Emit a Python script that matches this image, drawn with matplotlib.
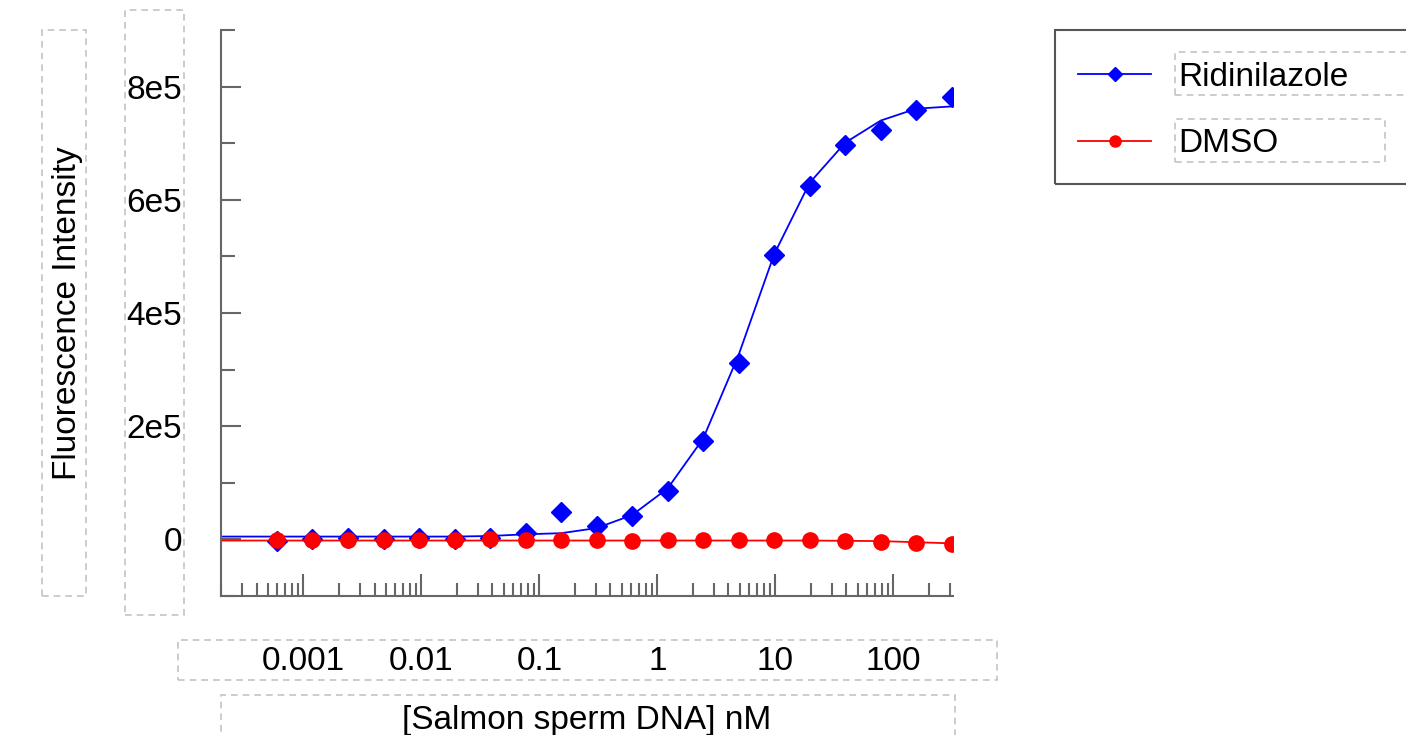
import numpy as np
import matplotlib
matplotlib.use('Agg')
import matplotlib.pyplot as plt
from matplotlib.patches import Rectangle
from matplotlib.lines import Line2D
from matplotlib.ticker import LogLocator, NullFormatter, FixedLocator

plt.rcParams['font.family'] = ['Liberation Sans', 'DejaVu Sans']

# [Salmon sperm DNA] nM, 2-fold dilution series
conc = [0.000596, 0.00119, 0.00238, 0.00477, 0.00954, 0.0191, 0.0381, 0.0763,
        0.153, 0.305, 0.610, 1.22, 2.44, 4.88, 9.77, 19.5, 39.1, 78.1, 156.25, 312.5]

ridinilazole = [-2e3, 0, 2e3, 0, 2e3, 1e3, 3e3, 1.1e4, 4.8e4, 2.4e4, 4.2e4, 8.6e4,
                1.74e5, 3.11e5, 5.02e5, 6.24e5, 6.97e5, 7.24e5, 7.59e5, 7.82e5]
dmso = [-1e3, -1e3, -1e3, -1e3, -1e3, -1e3, 0, -1e3, -1e3, -1e3, -2e3, -1e3,
        -1e3, -1e3, -1e3, -1e3, -3e3, -4e3, -7e3, -8e3]

# fitted curves (start at left edge of axis, then at each concentration)
fit_conc = [0.0002] + conc
ridinilazole_fit = [5e3, 5e3, 5e3, 5e3, 5e3, 5e3, 5e3, 6e3, 9e3, 1.1e4, 2.0e4, 4.3e4,
                    9.0e4, 1.78e5, 3.26e5, 5.04e5, 6.3e5, 7.01e5, 7.4e5, 7.61e5, 7.65e5]
dmso_fit = [-2e3] * 17 + [-2.5e3, -3e3, -5e3, -7e3]

W, H = 1406, 735
fig = plt.figure(figsize=(W / 100, H / 100), dpi=100)
ax = fig.add_axes([221 / W, 1 - 596 / H, (953 - 221) / W, (596 - 30) / H])

#%%
ax.plot(fit_conc, ridinilazole_fit, color='blue', lw=1.3)
ax.plot(conc, ridinilazole, 'D', color='blue', ms=10, mec='blue')
ax.plot(fit_conc, dmso_fit, color='red', lw=1.3)
ax.plot(conc, dmso, 'o', color='red', ms=11, mec='red')

ax.set_xscale('log')
ax.set_xlim(0.0002, 320)
ax.set_ylim(-1e5, 9e5)

gray = '#666666'
for s in ['top', 'right']:
    ax.spines[s].set_visible(False)
for s in ['left', 'bottom']:
    ax.spines[s].set_color(gray)
    ax.spines[s].set_linewidth(1.5)

ax.set_xticks([1e-3, 1e-2, 1e-1, 1, 10, 100])
ax.set_xticklabels(['0.001', '0.01', '0.1', '1', '10', '100'])
ax.xaxis.set_minor_locator(LogLocator(base=10, subs=np.arange(2, 10), numticks=20))
ax.xaxis.set_minor_formatter(NullFormatter())

ax.set_yticks([0, 2e5, 4e5, 6e5, 8e5])
ax.set_yticklabels(['0', '2e5', '4e5', '6e5', '8e5'])
ax.yaxis.set_minor_locator(FixedLocator([-1e5, 1e5, 3e5, 5e5, 7e5, 9e5]))

ax.tick_params(axis='both', which='both', direction='in', color=gray, width=1.5, labelsize=24)
ax.tick_params(axis='y', which='major', length=14.4, pad=28)
ax.tick_params(axis='y', which='minor', length=10)
ax.tick_params(axis='x', which='major', length=16, pad=36)
ax.tick_params(axis='x', which='minor', length=9.4)

ax.set_xlabel('[Salmon sperm DNA] nM', fontsize=24)
ax.xaxis.set_label_coords(0.5, -0.192)
ax.set_ylabel('Fluorescence Intensity', fontsize=24)
ax.yaxis.set_label_coords(-0.189, 0.5)

#%%
# dashed layout boxes round the texts
def box(x0, y0, x1, y1, ec='#c4c4c4', ls=(0, (4, 3)), lw=1.2):
    fig.add_artist(Rectangle((x0 / W, 1 - y1 / H), (x1 - x0) / W, (y1 - y0) / H,
                             transform=fig.transFigure, fill=False, ec=ec, ls=ls, lw=lw))

box(42, 30, 86, 596)
box(125, 10, 184, 615)
box(178, 640, 997, 680)
box(221, 695, 955, 745)
box(1175, 52, 1420, 95)
box(1175, 119, 1385, 162)

# legend
box(1055, 30, 1420, 184, ec='#555555', ls='-', lw=1.5)
handles = [Line2D([], [], color='blue', lw=1.3, marker='D', ms=7),
           Line2D([], [], color='red', lw=1.3, marker='o', ms=8)]
fig.legend(handles, ['Ridinilazole', 'DMSO'], loc='upper left',
           bbox_to_anchor=(1046 / W, 1 - 30 / H), borderaxespad=0, frameon=False,
           fontsize=24, handlelength=2.2, handletextpad=0.8, borderpad=0.96,
           labelspacing=1.06)

plt.savefig('out.png', dpi=100)
